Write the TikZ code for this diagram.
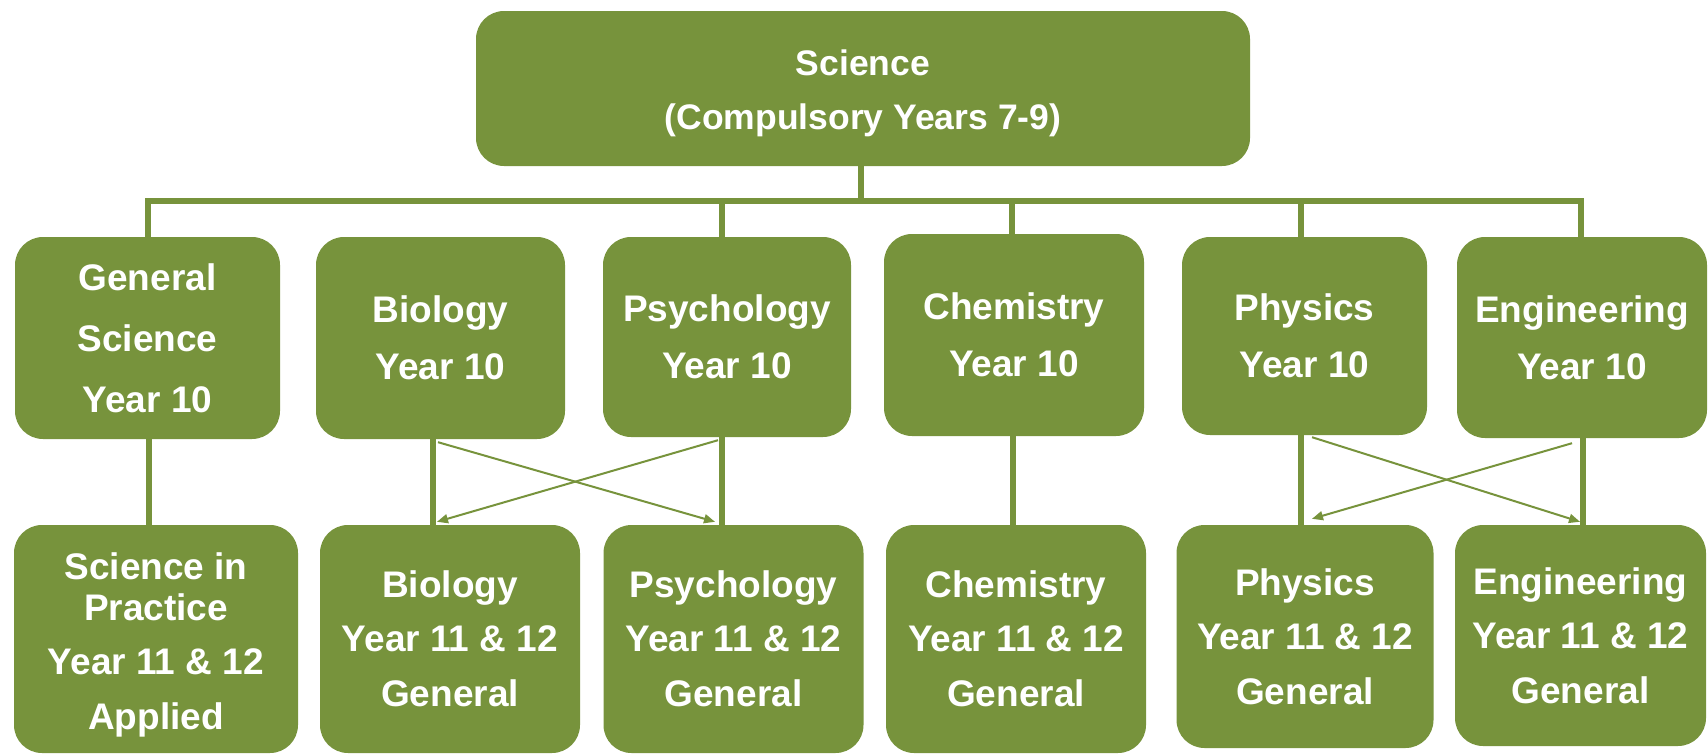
\documentclass[tikz,border=0pt]{standalone}
\usepackage{fontspec}
\setmainfont{Liberation Sans}
\usetikzlibrary{arrows.meta,calc}
\definecolor{olive}{HTML}{77933C}
\begin{document}
\begin{tikzpicture}[x=1pt,y=-1pt,
  boxtext/.style={text=white, inner sep=0pt, align=center,
    font=\fontsize{37}{44}\selectfont\bfseries},
  box/.style={rounded corners=28pt, fill=olive, boxtext},
  trunk/.style={draw=olive, line width=5.5pt},
  cross/.style={draw=olive, line width=2pt, -{Triangle[length=11pt,width=9pt]}}]
\useasboundingbox (0,0) rectangle (1708,755);

% top level (text set a little below the box centre)
\node[box, minimum width=774pt, minimum height=155pt,
  label={[boxtext, font=\fontsize{35.5}{42}\selectfont\bfseries, yshift=-5pt]center:{Science\\[12pt](Compulsory Years 7-9)}}]
  (top) at (863,88.5) {};

% Year 10 courses
\node[box, minimum width=265pt, minimum height=202pt] (gen10) at (147.5,338)
  {General\\[17pt]Science\\[17pt]Year 10};
\node[box, minimum width=249pt, minimum height=202pt] (bio10) at (440.5,338)
  {Biology\\[13pt]Year 10};
\node[box, minimum width=248pt, minimum height=200pt] (psy10) at (727,337)
  {Psychology\\[13pt]Year 10};
\node[box, minimum width=260pt, minimum height=202pt] (chem10) at (1014,335)
  {Chemistry\\[13pt]Year 10};
\node[box, minimum width=245pt, minimum height=198pt] (phy10) at (1304.5,336)
  {Physics\\[13pt]Year 10};
\node[box, minimum width=250pt, minimum height=201pt] (eng10) at (1582,337.5)
  {Engineering\\[13pt]Year 10};

% Year 11 & 12 courses
\node[box, minimum width=284pt, minimum height=228pt,
  label={[boxtext, yshift=-5.5pt]center:{Science in\\[-3pt]Practice\\[10pt]Year 11 \& 12\\[11pt]Applied}}]
  (sip) at (156,639) {};
\node[box, minimum width=260pt, minimum height=228pt] (bio11) at (450,639)
  {Biology\\[10pt]Year 11 \& 12\\[11pt]General};
\node[box, minimum width=260pt, minimum height=228pt] (psy11) at (733.5,639)
  {Psychology\\[10pt]Year 11 \& 12\\[11pt]General};
\node[box, minimum width=260pt, minimum height=228pt] (chem11) at (1016,639)
  {Chemistry\\[10pt]Year 11 \& 12\\[11pt]General};
\node[box, minimum width=257pt, minimum height=223pt] (phy11) at (1305,636.5)
  {Physics\\[10pt]Year 11 \& 12\\[11pt]General};
\node[box, minimum width=251pt, minimum height=221pt] (eng11) at (1580.5,635.5)
  {Engineering\\[10pt]Year 11 \& 12\\[11pt]General};

% connector positions
\coordinate (busL) at (148,201);
\coordinate (busR) at (1581,201);
\coordinate (xTop) at (861,0);
\coordinate (xPsy) at (722,0);
\coordinate (xChem) at (1012,0);
\coordinate (xPhy) at (1301,0);
\coordinate (xGenL) at (149,0);
\coordinate (xBioL) at (433,0);
\coordinate (xChemL) at (1013,0);
\coordinate (xEngL) at (1583,0);

% bus from the top box to the Year 10 row
\draw[trunk] (top.south -| xTop) -- (xTop |- busL);
\draw[trunk] (gen10.north -| busL) -- (busL) -- (busR) -- (eng10.north -| busR);
\draw[trunk] (xPsy |- busL) -- (psy10.north -| xPsy);
\draw[trunk] (xChem |- busL) -- (chem10.north -| xChem);
\draw[trunk] (xPhy |- busL) -- (phy10.north -| xPhy);

% Year 10 to Year 11 & 12
\draw[trunk] (gen10.south -| xGenL) -- (sip.north -| xGenL);
\draw[trunk] (bio10.south -| xBioL) -- (bio11.north -| xBioL);
\draw[trunk] (psy10.south -| xPsy) -- (psy11.north -| xPsy);
\draw[trunk] (chem10.south -| xChemL) -- (chem11.north -| xChemL);
\draw[trunk] (phy10.south -| xPhy) -- (phy11.north -| xPhy);
\draw[trunk] (eng10.south -| xEngL) -- (eng11.north -| xEngL);

% crossover pathways
\draw[cross] ($(bio10.south)+(-2.5,3)$) -- ($(psy11.north)+(-18.5,-3)$);
\draw[cross] ($(psy10.south)+(-9,3)$) -- ($(bio11.north)+(-13,-3)$);
\draw[cross] ($(phy10.south)+(7.5,2)$) -- ($(eng11.north)+(-0.5,-3)$);
\draw[cross] ($(eng10.south)+(-10,5)$) -- ($(phy11.north)+(7,-6)$);
\end{tikzpicture}
\end{document}
